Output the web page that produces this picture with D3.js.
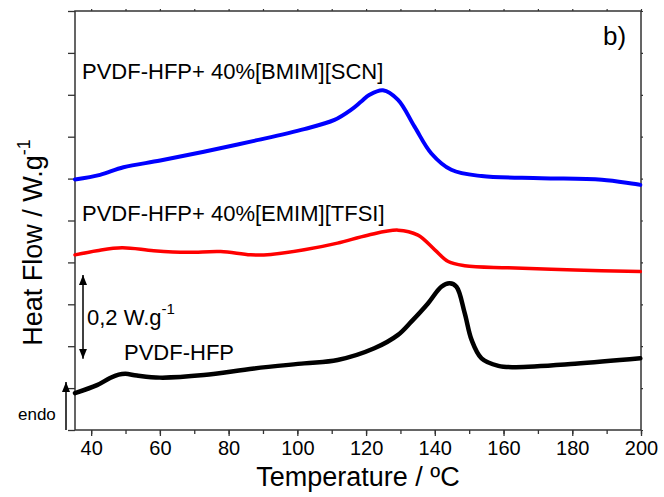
<!DOCTYPE html>
<html>
<head>
<meta charset="utf-8">
<script src="https://cdn.jsdelivr.net/npm/d3@7/dist/d3.min.js"></script>
<style>
  html, body { margin: 0; padding: 0; background: #fff; }
  svg { display: block; font-family: "Liberation Sans", Arial, sans-serif; }
</style>
</head>
<body>
<svg id="chart" width="664" height="497"></svg>
<script>
// DSC traces: temperature (°C) and heat flow (W/g, offset per curve)
const tempPure = [35.3, 41.7, 45.5, 48, 50, 53.3, 60, 72.8, 87.4, 102, 111.7, 122.4, 129.3, 133.1, 138, 141.9, 144.3, 146.3, 148.7, 150.7, 153.6, 158.5, 163.3, 180.8, 199.8];
const flowPure = [0.088, 0.107, 0.124, 0.132, 0.134, 0.130, 0.125, 0.131, 0.147, 0.159, 0.167, 0.195, 0.227, 0.258, 0.302, 0.342, 0.350, 0.342, 0.279, 0.215, 0.171, 0.153, 0.150, 0.158, 0.171];

const tempScn = [35.3, 42.6, 49.4, 60.1, 72.8, 87.4, 102, 110.8, 115.6, 118.6, 121, 124.9, 129.3, 134.1, 139, 144.8, 153.6, 171, 188.6, 199.8];
const flowScn = [0.598, 0.609, 0.627, 0.643, 0.664, 0.690, 0.718, 0.740, 0.764, 0.784, 0.800, 0.811, 0.788, 0.724, 0.660, 0.621, 0.606, 0.601, 0.597, 0.585];

const tempTfsi = [35.3, 41.7, 49, 58.2, 67.9, 77.7, 86.4, 92.3, 102, 111.7, 120.5, 129.3, 135.1, 140, 143.9, 148.7, 161.4, 180.8, 199.8];
const flowTfsi = [0.418, 0.428, 0.435, 0.428, 0.424, 0.426, 0.418, 0.419, 0.430, 0.446, 0.465, 0.477, 0.465, 0.430, 0.402, 0.392, 0.387, 0.382, 0.378];

const seriesNames = ["PVDF-HFP", "PVDF-HFP+ 40%[EMIM][TFSI]", "PVDF-HFP+ 40%[BMIM][SCN]"];
const seriesColors = ["#000000", "#ff0000", "#0000ff"];
const xTicks = [40, 60, 80, 100, 120, 140, 160, 180, 200];
const yTicks = [0, 0.1, 0.2, 0.3, 0.4, 0.5, 0.6, 0.7, 0.8, 0.9, 1.0];

const svg = d3.select("#chart");
const plotL = 75, plotR = 641, plotT = 11, plotB = 430;
const x = d3.scaleLinear().domain([35.3, 200]).range([plotL, plotR]);
const y = d3.scaleLinear().domain([0, 1]).range([plotB, plotT]);
const axisColor = "#333";

// frame
svg.append("rect").attr("x", plotL).attr("y", plotT)
  .attr("width", plotR - plotL).attr("height", plotB - plotT)
  .attr("fill", "none").attr("stroke", axisColor).attr("stroke-width", 1.5);

// bottom axis: majors labelled, minors every 10
const minorX = d3.range(40, 201, 10);
const gx = svg.append("g").attr("transform", `translate(0,${plotB})`);
gx.call(d3.axisBottom(x).tickValues(minorX).tickSize(4).tickFormat(""));
gx.call(g => g.select(".domain").remove());
const gxMaj = svg.append("g").attr("transform", `translate(0,${plotB})`)
  .call(d3.axisBottom(x).tickValues(xTicks).tickSize(6).tickPadding(5).tickFormat(d3.format("d")));
gxMaj.select(".domain").remove();
gxMaj.selectAll("text").attr("font-size", 20).attr("fill", "#000")
  .attr("font-family", "'Liberation Sans', Arial, sans-serif");
svg.selectAll(".tick line").attr("stroke", axisColor).attr("stroke-width", 1.3);

// top axis small ticks
const gt = svg.append("g").attr("transform", `translate(0,${plotT})`)
  .call(d3.axisTop(x).tickValues(minorX).tickSize(2).tickFormat(""));
gt.select(".domain").remove();
gt.selectAll("line").attr("stroke", axisColor).attr("stroke-width", 1.2);

// left axis ticks, no labels
const gy = svg.append("g").attr("transform", `translate(${plotL},0)`)
  .call(d3.axisLeft(y).tickValues(yTicks).tickSize(7).tickFormat(""));
gy.select(".domain").remove();
gy.selectAll("line").attr("stroke", axisColor).attr("stroke-width", 1.3);

// right axis small ticks
const gr = svg.append("g").attr("transform", `translate(${plotR},0)`)
  .call(d3.axisRight(y).tickValues(yTicks).tickSize(2).tickFormat(""));
gr.select(".domain").remove();
gr.selectAll("line").attr("stroke", axisColor).attr("stroke-width", 1.2);

// curves
const line = d3.line().x(d => x(d[0])).y(d => y(d[1])).curve(d3.curveCatmullRom.alpha(0.5));
const traces = [
  { t: tempPure, f: flowPure, w: 4.5 },
  { t: tempTfsi, f: flowTfsi, w: 3.5 },
  { t: tempScn, f: flowScn, w: 4 }
];
traces.forEach((s, i) => {
  svg.append("path")
    .datum(d3.zip(s.t, s.f))
    .attr("d", line)
    .attr("fill", "none")
    .attr("stroke", seriesColors[i])
    .attr("stroke-width", s.w)
    .attr("stroke-linejoin", "round")
    .attr("stroke-linecap", "round");
});

// curve labels
const labelFont = 22;
svg.append("text").attr("x", 124).attr("y", 360).attr("font-size", labelFont).text(seriesNames[0]);
svg.append("text").attr("x", 82).attr("y", 221).attr("font-size", labelFont).text(seriesNames[1]);
svg.append("text").attr("x", 82).attr("y", 79).attr("font-size", labelFont).text(seriesNames[2]);
svg.append("text").attr("x", 603).attr("y", 45).attr("font-size", 26).text("b)");

// arrow markers
const defs = svg.append("defs");
defs.append("marker").attr("id", "head").attr("viewBox", "0 0 10 10")
  .attr("refX", 10).attr("refY", 5).attr("markerWidth", 10).attr("markerHeight", 10)
  .attr("markerUnits", "userSpaceOnUse").attr("orient", "auto-start-reverse")
  .append("path").attr("d", "M0,1 L10,5 L0,9 Z").attr("fill", "#000");

// scale bar: 0.2 W/g, spanning two tick intervals
const barX = 83;
svg.append("line").attr("x1", barX).attr("x2", barX)
  .attr("y1", y(0.37)).attr("y2", y(0.17))
  .attr("stroke", "#000").attr("stroke-width", 1.5)
  .attr("marker-start", "url(#head)").attr("marker-end", "url(#head)");
const sb = svg.append("text").attr("x", 87).attr("y", 325).attr("font-size", labelFont);
sb.append("tspan").text("0,2 W.g");
sb.append("tspan").attr("font-size", 15).attr("dy", -11).text("-1");

// endo direction arrow
svg.append("line").attr("x1", 66).attr("x2", 66)
  .attr("y1", 430).attr("y2", 382)
  .attr("stroke", "#000").attr("stroke-width", 1.5)
  .attr("marker-end", "url(#head)");
svg.append("text").attr("x", 18).attr("y", 420).attr("font-size", 17).text("endo");

// axis titles
svg.append("text").attr("x", (plotL + plotR) / 2).attr("y", 486)
  .attr("text-anchor", "middle").attr("font-size", 27).text("Temperature / ºC");
const yt = svg.append("text")
  .attr("transform", `translate(42,${(plotT + plotB) / 2 + 22}) rotate(-90)`)
  .attr("text-anchor", "middle").attr("font-size", 27);
yt.append("tspan").text("Heat Flow / W.g");
yt.append("tspan").attr("font-size", 18).attr("dy", -12).text("-1");
</script>
</body>
</html>
